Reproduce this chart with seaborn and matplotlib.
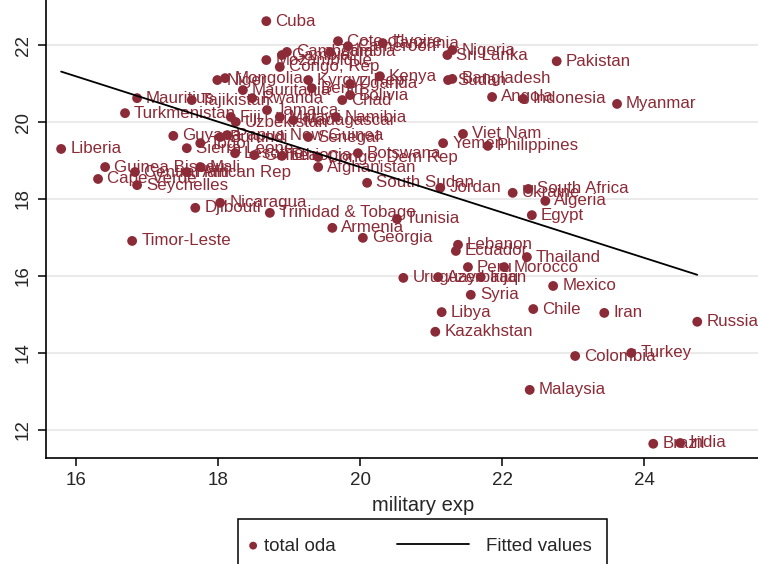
import matplotlib
matplotlib.use("Agg")
import matplotlib.pyplot as plt
from matplotlib.legend_handler import HandlerLine2D
from matplotlib.patches import Rectangle
import numpy as np
import seaborn as sns
import pandas as pd

# Country labels, military expenditure (log) and total ODA (log)
countries = [
    "Cuba", "Cote d'Ivoire", "Cameroon", "Tanzania", "Zambia", "Cambodia", "Gambia",
    "Mozambique", "Congo, Rep", "Nigeria", "Sri Lanka", "Pakistan", "Sudan",
    "Bangladesh", "Kyrgyz Rep", "Kenya", "Uganda", "Benin", "Niger", "Mongolia",
    "Mauritania", "Bolivia", "Chad", "Angola", "Indonesia", "Myanmar", "Mauritius",
    "Tajikistan", "Rwanda", "Turkmenistan", "Jamaica", "Fiji", "Uzbekistan",
    "Namibia", "Malawi", "Madagascar", "Guyana", "Burundi", "Papua New Guinea",
    "Senegal", "Viet Nam", "Yemen", "Philippines", "Liberia", "Sierra Leone", "Togo",
    "Lesotho", "Guinea", "Ethiopia", "Congo, Dem Rep", "Botswana", "Afghanistan",
    "Guinea Bissau", "Central African Rep", "Haiti", "Mali", "Cape Verde",
    "Seychelles", "South Sudan", "Jordan", "Ukraine", "South Africa", "Algeria",
    "Egypt", "Nicaragua", "Djibouti", "Trinidad & Tobago", "Tunisia", "Armenia",
    "Georgia", "Timor-Leste", "Lebanon", "Ecuador", "Peru", "Morocco", "Thailand",
    "Uruguay", "Azerbaijan", "Iraq", "Syria", "Mexico", "Libya", "Chile", "Iran",
    "Russia", "Kazakhstan", "Colombia", "Turkey", "Malaysia", "Brazil", "India",
]
military_exp = [
    18.68, 19.69, 19.83, 20.32, 19.58, 18.97, 18.90,
    18.68, 18.87, 21.30, 21.23, 22.77, 21.24,
    21.30, 19.27, 20.28, 19.86, 19.32, 17.99, 18.10,
    18.35, 19.86, 19.75, 21.86, 22.30, 23.62, 16.86,
    17.63, 18.48, 16.69, 18.69, 18.18, 18.25,
    19.66, 18.87, 19.06, 17.37, 18.03, 18.13,
    19.27, 21.45, 21.17, 21.80, 15.79, 17.56, 17.75,
    18.24, 18.51, 18.90, 19.41, 19.97, 19.41,
    16.41, 16.83, 17.56, 17.75, 16.31,
    16.86, 20.10, 21.13, 22.15, 22.37, 22.61,
    22.42, 18.03, 17.68, 18.73, 20.52, 19.61,
    20.04, 16.79, 21.38, 21.35, 21.52, 22.03, 22.35,
    20.61, 21.10, 21.70, 21.56, 22.72, 21.15, 22.44, 23.44,
    24.75, 21.06, 23.03, 23.82, 22.39, 24.13, 24.51,
]
total_oda = [
    22.62, 22.10, 21.97, 22.05, 21.82, 21.82, 21.74,
    21.61, 21.43, 21.87, 21.74, 21.58, 21.09,
    21.12, 21.09, 21.19, 20.99, 20.88, 21.09, 21.14,
    20.83, 20.70, 20.57, 20.65, 20.60, 20.47, 20.62,
    20.57, 20.62, 20.23, 20.31, 20.13, 20.00,
    20.13, 20.13, 20.05, 19.64, 19.61, 19.66,
    19.61, 19.69, 19.45, 19.38, 19.30, 19.32, 19.45,
    19.19, 19.14, 19.12, 19.09, 19.19, 18.83,
    18.83, 18.70, 18.70, 18.83, 18.52,
    18.36, 18.42, 18.29, 18.16, 18.26, 17.95,
    17.58, 17.90, 17.77, 17.64, 17.48, 17.25,
    16.99, 16.91, 16.81, 16.65, 16.23, 16.23, 16.49,
    15.95, 15.97, 15.97, 15.51, 15.74, 15.06, 15.14, 15.04,
    14.81, 14.55, 13.92, 14.00, 13.04, 11.64, 11.66,
]

# Linear fit of total oda on military exp (end points of the fitted line)
fit_x = [15.79, 24.75]
fit_y = [21.31, 16.03]

x_ticks = [16, 18, 20, 22, 24]
y_ticks = [12, 14, 16, 18, 20, 22]

maroon = "#8b2b37"


class LongLineHandler(HandlerLine2D):
    """Legend key whose line reaches back into the space before the handle."""

    def __init__(self, reach, **kw):
        super().__init__(**kw)
        self.reach = reach

    def get_xdata(self, legend, xdescent, ydescent, width, height, fontsize):
        xdata = np.array([-xdescent - self.reach, -xdescent])
        return xdata, np.array([-xdescent - self.reach / 2])


sns.set_style("white")
plt.rcParams["font.family"] = ["Liberation Sans", "DejaVu Sans"]

df = pd.DataFrame({"country": countries, "military exp": military_exp,
                   "total oda": total_oda})
fit_df = pd.DataFrame({"military exp": fit_x, "Fitted values": fit_y})

W, H = 758, 564
fig = plt.figure(figsize=(W / 100, H / 100), dpi=100)
ax = fig.add_axes([46 / W, 106 / H, (800 - 46) / W, 458 / H])

sns.scatterplot(data=df, x="military exp", y="total oda", ax=ax, color=maroon,
                s=50, edgecolor="none", linewidth=0, label="total oda", zorder=3)
sns.lineplot(data=fit_df, x="military exp", y="Fitted values", ax=ax,
             color="black", linewidth=1.3, label="Fitted values", zorder=4)

for name, xv, yv in zip(df["country"], df["military exp"], df["total oda"]):
    ax.annotate(name, (xv, yv), xytext=(6.5, 0), textcoords="offset points",
                ha="left", va="center", color=maroon, fontsize=12.2, zorder=3)

ax.set_xlim(15.577, 26.197)
ax.set_ylim(11.27, 23.17)
ax.set_xticks(x_ticks)
ax.set_yticks(y_ticks)
ax.set_xticklabels([str(t) for t in x_ticks], fontsize=13.5)
ax.set_yticklabels([str(t) for t in y_ticks], fontsize=13.5, rotation=90,
                   va="center")
ax.tick_params(axis="both", direction="out", length=6, width=1.1,
               color="black", bottom=True, left=True, pad=4)

ax.yaxis.grid(True, color="#eaeaea", linewidth=1.5)
ax.xaxis.grid(False)
ax.set_axisbelow(True)

for side in ("top", "right"):
    ax.spines[side].set_visible(False)
for side in ("left", "bottom"):
    ax.spines[side].set_color("black")
    ax.spines[side].set_linewidth(1.2)

ax.set_xlabel("military exp", fontsize=14.5, labelpad=5)
ax.set_ylabel("")

# Legend below the plot: dot key, long line key, framed box
handles, labels = ax.get_legend_handles_labels()
ax.get_legend().remove()
leg = fig.legend(handles, labels, loc="center left",
                 bbox_to_anchor=(247.5 / W, 1 - 546 / H), ncol=2,
                 frameon=False, fontsize=13.5, handlelength=0.6,
                 handletextpad=0.3, columnspacing=7.1, borderpad=0,
                 borderaxespad=0, markerscale=0.8,
                 handler_map={handles[1]: LongLineHandler(reach=52)})
fig.add_artist(Rectangle((238 / W, -0.05), (607 - 238) / W, 45 / H + 0.05,
                         transform=fig.transFigure, fill=False,
                         edgecolor="black", linewidth=1.1, clip_on=False))

fig.savefig("out.png", dpi=100, facecolor="white")
